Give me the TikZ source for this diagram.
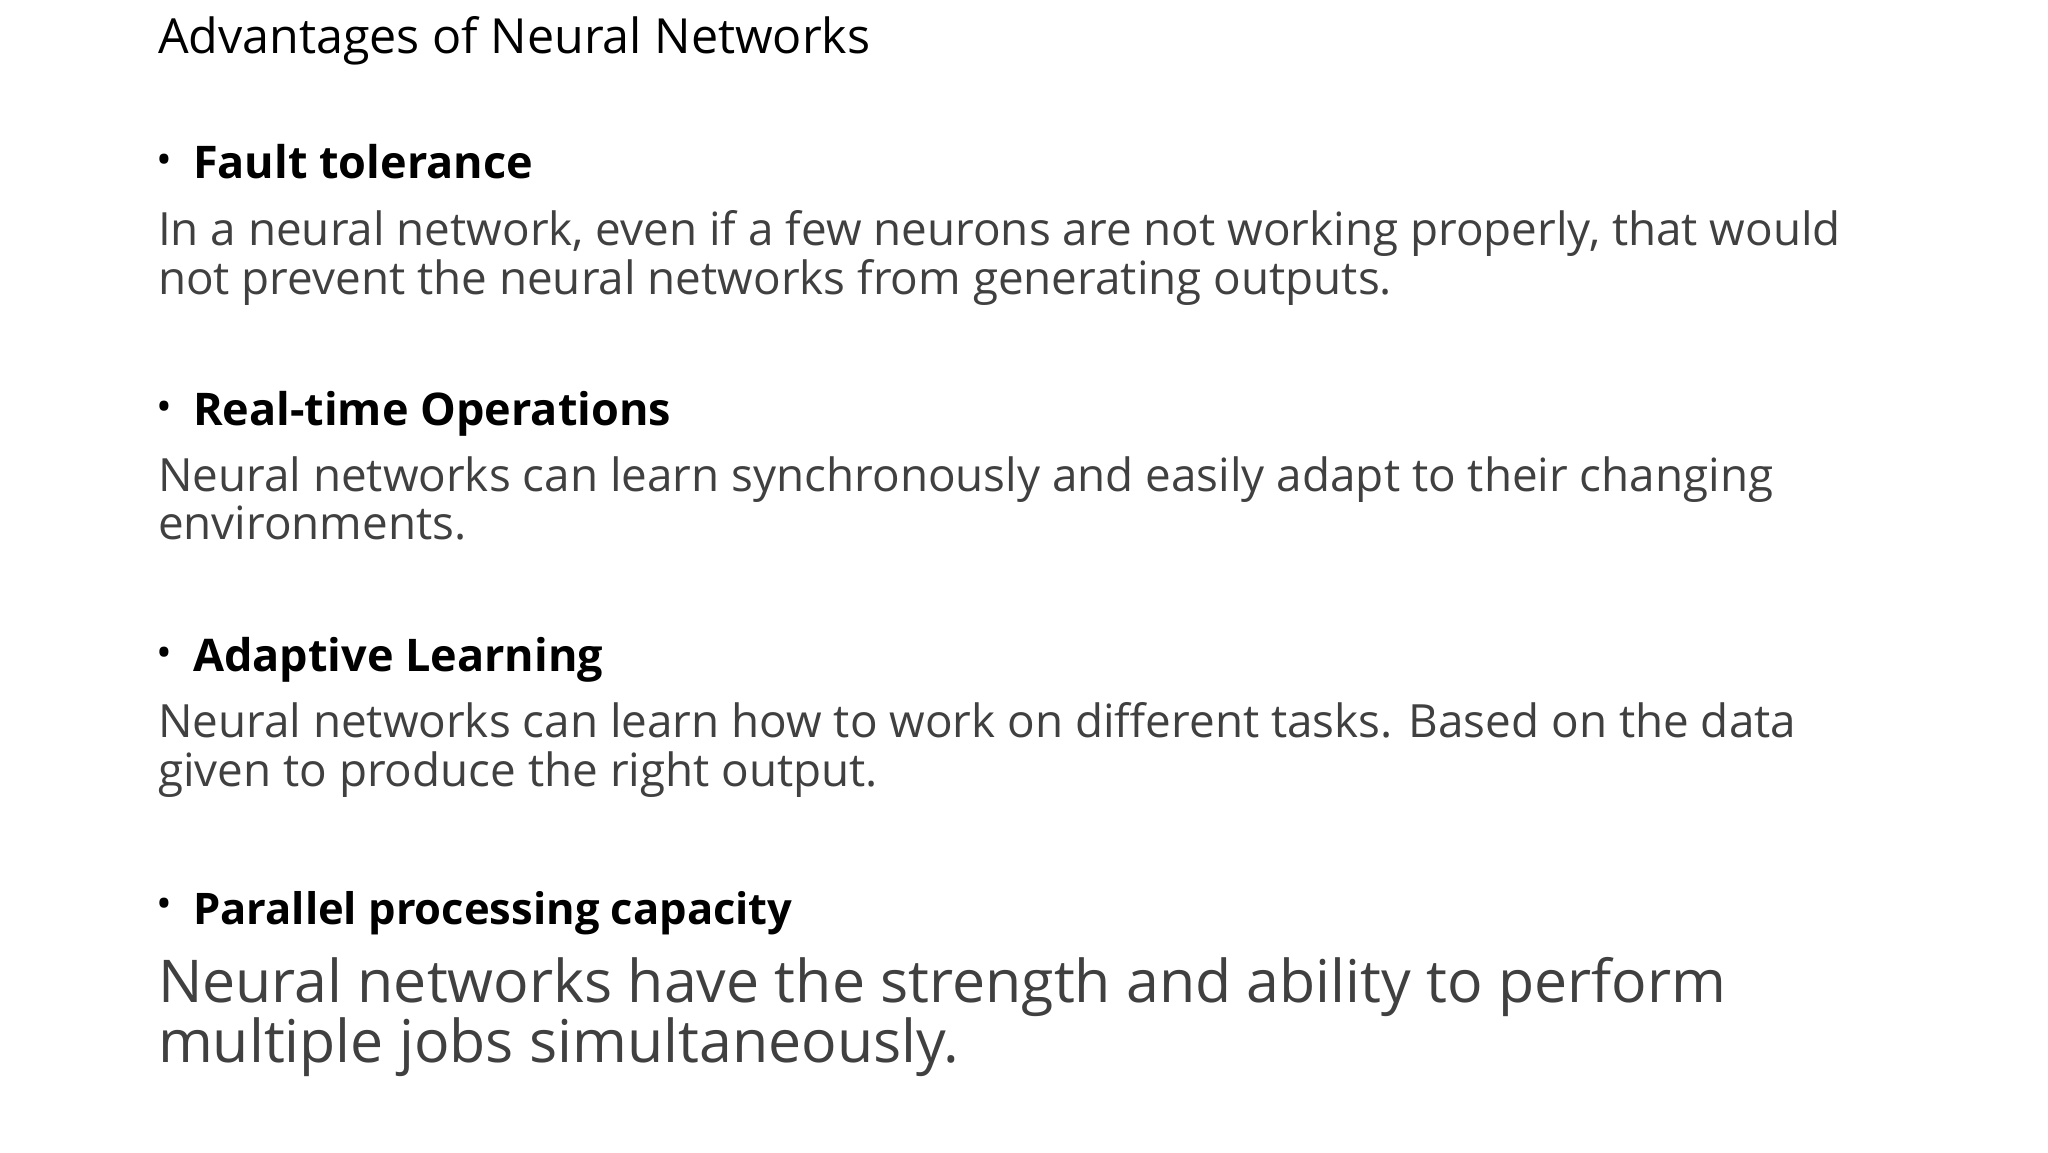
\documentclass[tikz,border=0pt]{standalone}
\usepackage{fontspec}
\setmainfont{Open Sans}
\definecolor{bodygray}{HTML}{404040}
\tikzset{
  ln/.style={anchor=base west, inner sep=0pt, outer sep=0pt},
  ttl/.style={ln, font=\fontsize{48.4}{56}\selectfont, text=black},
  head/.style={ln, font=\fontsize{45}{56}\selectfont\bfseries, text=black},
  bod/.style={ln, font=\fontsize{45.8}{56}\selectfont, text=bodygray},
  bigbod/.style={ln, font=\fontsize{59}{70}\selectfont, text=bodygray},
  bul/.style={ln, font=\fontsize{42}{48}\selectfont, text=black},
}
\begin{document}
\begin{tikzpicture}[x=1pt,y=-1pt]
\useasboundingbox (0,0) rectangle (2048,1152);
\node[ttl] (title) at (158,53) {Advantages of Neural Networks};
\node[bul] (b1) at (156,174) {•};
\node[head] (h1) at (193,178) {Fault tolerance};
\node[bod] (t1a) at (158,245) {In a neural network, even if a few neurons are not working properly, that would};
\node[bod] (t1b) at (158,294) {not prevent the neural networks from generating outputs.};
\node[bul] (b2) at (156,421) {•};
\node[head] (h2) at (193,425) {Real-time Operations};
\node[bod] (t2a) at (158,491) {Neural networks can learn synchronously and easily adapt to their changing};
\node[bod] (t2b) at (158,539) {environments.};
\node[bul] (b3) at (156,667) {•};
\node[head] (h3) at (193,671) {Adaptive Learning};
\node[bod] (t3a) at (158,737) {Neural networks can learn how to work on different tasks. Based on the data};
\node[bod] (t3b) at (158,786) {given to produce the right output.};
\node[bul] (b4) at (156,918) {•};
\node[head,font=\fontsize{43.5}{56}\selectfont\bfseries] (h4) at (193,924) {Parallel processing capacity};
\node[bigbod] (t4a) at (158,1002) {Neural networks have the strength and ability to perform};
\node[bigbod] (t4b) at (158,1062) {multiple jobs simultaneously.};
\end{tikzpicture}
\end{document}
